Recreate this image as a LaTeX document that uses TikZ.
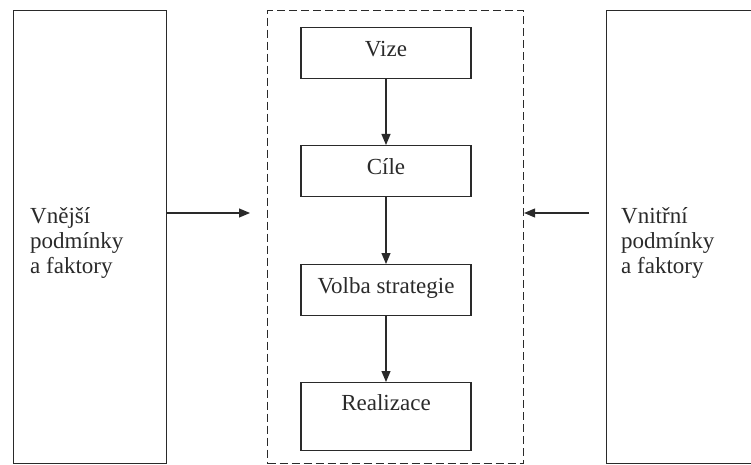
\documentclass[tikz,border=0pt]{standalone}
\usepackage{fontspec}
\setmainfont{Liberation Serif}
\usetikzlibrary{arrows.meta}
\definecolor{ink}{HTML}{2A2A2A}
\begin{document}
\begin{tikzpicture}[x=1pt,y=-1pt,
  every node/.style={font=\fontsize{23}{25}\selectfont, text=ink},
  outerbox/.style={draw=ink, line width=1.1pt, rectangle, inner sep=0pt},
  stepbox/.style={draw=ink, line width=1.1pt, rectangle, inner sep=0pt,
    minimum width=170pt, text height=29pt, text depth=22pt, align=center},
  lastbox/.style={stepbox, text height=28pt, text depth=40pt},
  sidetext/.style={anchor=base west, align=left, inner sep=0pt},
  arr/.style={draw=ink, line width=1.1pt, -{Triangle[length=11pt,width=9pt]}}]
\useasboundingbox (0,0) rectangle (751,465);
% left box
\node[outerbox, minimum width=153pt, minimum height=453pt, anchor=north west] (left) at (13,10) {};
\node[sidetext] (lefttext) at (30,273) {Vnější\\podmínky\\a faktory};
% dashed box
\node[outerbox, dashed, dash pattern=on 8pt off 4pt, minimum width=256pt, minimum height=453pt, anchor=north west] (mid) at (267,10) {};
% right box (extends past the right edge)
\node[outerbox, minimum width=160pt, minimum height=453pt, anchor=north west] (right) at (606,10) {};
\node[sidetext] (righttext) at (621,273) {Vnitřní\\podmínky\\a faktory};
% steps
\node[stepbox, anchor=north] (vize) at (386,27) {Vize};
\node[stepbox, anchor=north] (cile) at (386,145) {Cíle};
\node[stepbox, anchor=north] (volba) at (386,264) {Volba strategie};
\node[lastbox, anchor=north] (real) at (386,382) {Realizace};
\draw[arr] (vize.south) -- (cile.north);
\draw[arr] (cile.south) -- (volba.north);
\draw[arr] (volba.south) -- (real.north);
% side arrows
\coordinate (lend) at (250,213);
\coordinate (rstart) at (589,213);
\draw[arr] (left.east |- lend) -- (lend);
\draw[arr] (rstart) -- (mid.east |- rstart);
\end{tikzpicture}
\end{document}
